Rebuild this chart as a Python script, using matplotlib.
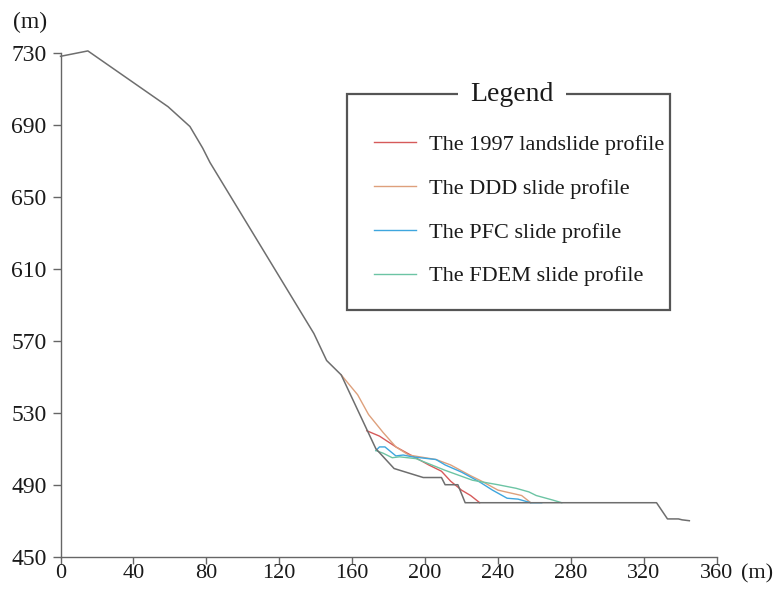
import matplotlib
matplotlib.use("Agg")
import matplotlib.pyplot as plt
from matplotlib.patches import Rectangle

plt.rcParams["font.family"] = ["Liberation Serif", "DejaVu Serif"]

# slope surface before failure (distance m, elevation m)
ground_x = [0, 15, 59, 71, 78, 82, 139, 146, 154, 173, 183, 199, 209, 211, 218, 222,
            327, 333, 339, 341, 345]
ground_y = [728, 731, 700, 689, 677, 669, 574, 559, 551, 510, 499, 494, 494, 490, 490, 480,
            480, 471, 471, 470.5, 470]

# observed 1997 profile
obs_x = [168, 175, 184, 193, 202, 209, 214, 220, 225, 230]
obs_y = [520, 517, 511, 506, 501, 497.5, 492, 487, 484, 480]

# DDD result
ddd_x = [154, 163, 169, 177, 184, 191, 206, 214, 225, 231, 240, 253, 258]
ddd_y = [551, 540, 529, 519, 511, 506.5, 504, 501, 495, 492, 487, 484, 480]

# PFC result
pfc_x = [173, 175, 178, 184, 188, 193, 206, 211, 220, 230, 237, 245, 251, 258, 264]
pfc_y = [509, 511, 511, 506, 506.5, 505.5, 504, 501, 497, 491.5, 487, 482.5, 482, 480, 480]

# FDEM result
fdem_x = [173, 177, 182, 186, 195, 211, 226, 240, 250, 257, 261, 270, 275]
fdem_y = [509, 507.5, 505, 505.5, 504.5, 498, 492.5, 490, 488, 486, 484, 481.5, 480]

labels = ["The 1997 landslide profile", "The DDD slide profile",
          "The PFC slide profile", "The FDEM slide profile"]
colors = ["#d65a5a", "#dea07c", "#3ea6de", "#6cc4a4"]

fig = plt.figure(figsize=(7.79, 5.89), dpi=100)
ax = fig.add_axes([0.0777, 0.0548, 0.8423, 0.8557])

ax.plot(ground_x, ground_y, color="#6e6e6e", lw=1.1, clip_on=False, zorder=3)
handles = []
for xs, ys, c, lab in zip([obs_x, ddd_x, pfc_x, fdem_x], [obs_y, ddd_y, pfc_y, fdem_y],
                          colors, labels):
    h, = ax.plot(xs, ys, color=c, lw=1.0, label=lab, zorder=2)
    handles.append(h)

ax.set_xlim(0, 360)
ax.set_ylim(450, 730)
ax.set_xticks(range(0, 361, 40))
ax.set_yticks(range(450, 731, 40))
for s in ("top", "right"):
    ax.spines[s].set_visible(False)
for s in ("left", "bottom"):
    ax.spines[s].set_color("#666666")
    ax.spines[s].set_linewidth(1.0)
ax.tick_params(direction="out", length=6, width=1.0, color="#666666",
               labelsize=17, labelcolor="#1a1a1a", pad=4)
ax.tick_params(axis="x", length=5, labelsize=16, pad=0.5)

fig.text(0.0385, 0.962, "(m)", fontsize=17, color="#1a1a1a", ha="center", va="center")
fig.text(0.972, 0.026, "(m)", fontsize=16, color="#1a1a1a", ha="center", va="center")

# framed legend with its title sitting on the top border
box = Rectangle((0.4458, 0.4737), 0.4143, 0.3667, transform=fig.transFigure,
                fill=False, edgecolor="#555555", lw=1.6, zorder=5)
fig.add_artist(box)
fig.text(0.6569, 0.8404, "Legend", fontsize=20, color="#1a1a1a", ha="center", va="center",
         zorder=6, bbox=dict(boxstyle="square,pad=0.45", fc="white", ec="none"))
ax.legend(handles=handles, loc="upper left", bbox_to_anchor=(0.466, 0.791),
          bbox_transform=fig.transFigure, frameon=False, fontsize=16,
          handlelength=1.87, handletextpad=0.6, labelspacing=1.05, borderpad=0,
          labelcolor="#1a1a1a")

fig.savefig("out.png", dpi=100)
plt.close(fig)
